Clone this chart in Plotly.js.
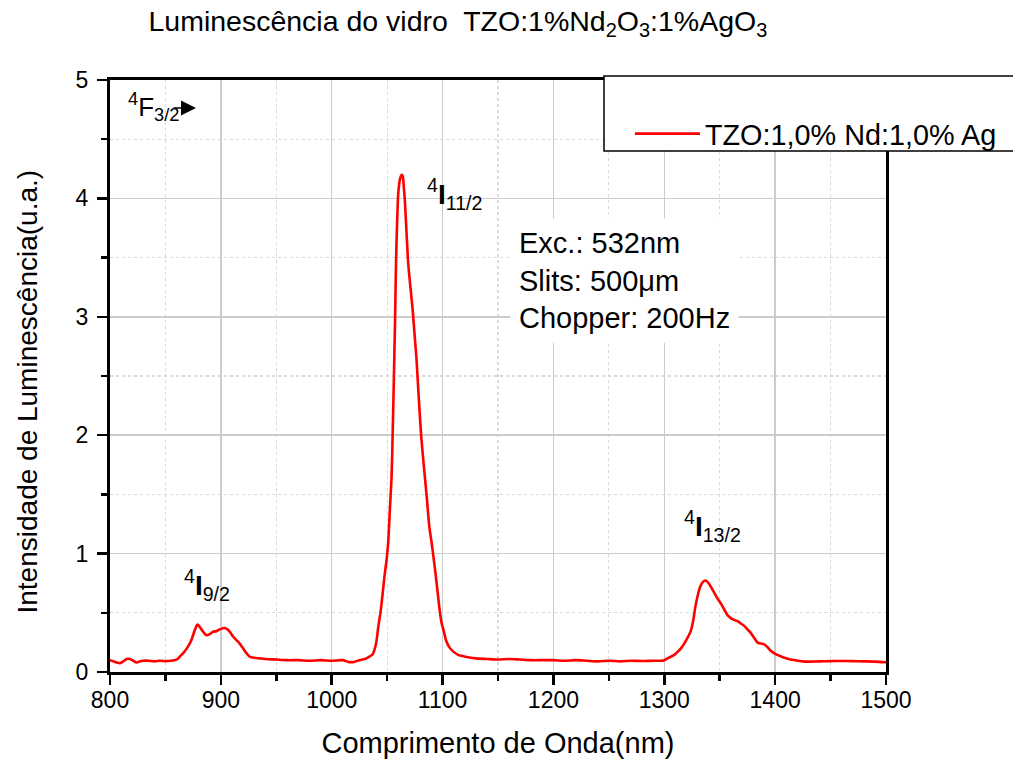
<!DOCTYPE html>
<html>
<head>
<meta charset="utf-8">
<script src="https://cdn.plot.ly/plotly-3.0.1.min.js"></script>
<style>html,body{margin:0;padding:0;background:#fff;}#chart{width:1013px;height:765px;}</style>
</head>
<body>
<div id="chart"></div>
<script>
const wavelength = [800,803,806,809,812,815,818,821,824,827,830,835,840,845,850,855,858,861,864,867,870,873,876,878,879,881,884,887,890,893,896,899,902,904,906,908,911,914,917,920,923,926,930,935,940,950,960,970,980,990,1000,1010,1015,1020,1025,1030,1034,1037,1040,1042,1044.5,1047.5,1049.5,1051,1052.5,1054,1055,1056,1057,1058,1059,1060,1061,1062,1063,1064,1065,1066,1067,1068,1069,1071,1073,1075,1076.5,1078,1080.5,1083,1086,1088,1090,1092.5,1095,1097,1099,1101.5,1103,1106,1110,1114,1118,1123,1130,1140,1150,1160,1170,1180,1190,1200,1210,1220,1230,1240,1250,1260,1270,1280,1290,1297,1300,1303,1306,1309,1312,1315,1318,1321,1324,1326,1328,1330,1332,1334,1336,1338,1340,1342,1345,1348,1351,1354,1357,1360,1363,1366,1369,1372,1375,1378,1381,1384,1387,1390,1393,1396,1399,1403,1407,1412,1418,1425,1430,1440,1450,1460,1470,1480,1490,1500];
const intensity = [0.10,0.09,0.08,0.075,0.09,0.11,0.11,0.095,0.08,0.09,0.095,0.095,0.09,0.095,0.092,0.095,0.10,0.11,0.14,0.17,0.21,0.26,0.34,0.39,0.40,0.38,0.34,0.31,0.32,0.34,0.345,0.36,0.37,0.37,0.36,0.34,0.30,0.27,0.24,0.20,0.16,0.13,0.12,0.115,0.11,0.105,0.10,0.10,0.095,0.10,0.095,0.10,0.085,0.085,0.10,0.11,0.13,0.15,0.24,0.38,0.54,0.80,0.95,1.10,1.38,1.65,2.02,2.45,2.90,3.45,3.80,4.04,4.13,4.18,4.20,4.19,4.10,3.98,3.80,3.62,3.45,3.25,3.06,2.82,2.64,2.40,2.02,1.75,1.45,1.23,1.10,0.92,0.72,0.55,0.42,0.33,0.27,0.21,0.17,0.145,0.135,0.125,0.115,0.11,0.105,0.11,0.105,0.10,0.10,0.10,0.095,0.10,0.095,0.09,0.095,0.09,0.095,0.093,0.095,0.095,0.10,0.115,0.13,0.145,0.17,0.20,0.24,0.29,0.35,0.43,0.55,0.64,0.71,0.75,0.77,0.77,0.75,0.72,0.67,0.62,0.58,0.53,0.48,0.455,0.44,0.43,0.41,0.39,0.36,0.33,0.29,0.25,0.24,0.235,0.21,0.18,0.16,0.14,0.125,0.11,0.10,0.09,0.088,0.09,0.092,0.093,0.092,0.09,0.088,0.082];

const seriesName = 'TZO:1,0% Nd:1,0% Ag';
const chartTitle = 'Luminescência do vidro  TZO:1%Nd<sub>2</sub>O<sub>3</sub>:1%AgO<sub>3</sub>';
const xTitle = 'Comprimento de Onda(nm)';
const yTitle = 'Intensidade de Luminescência(u.a.)';
const xTicks = [800,900,1000,1100,1200,1300,1400,1500];
const yTicks = [0,1,2,3,4,5];
const levelLabels = ['<sup>4</sup>F<sub>3/2</sub>','<sup>4</sup><b>I</b><sub>9/2</sub>','<sup>4</sup><b>I</b><sub>11/2</sub>','<sup>4</sup><b>I</b><sub>13/2</sub>'];
const levelX = [814.5, 865, 1084, 1316];
const levelY = [4.77, 0.735, 4.035, 1.23];
const levelSize = [26, 28, 28, 28];
const infoText = 'Exc.: 532nm<br>Slits: 500μm<br>Chopper: 200Hz';

const FONT = 'Liberation Sans, Arial, sans-serif';

const trace = {
  x: wavelength, y: intensity, type: 'scatter', mode: 'lines', name: seriesName,
  line: {color: '#ff0000', width: 2.6, shape: 'spline', smoothing: 0.7}
};

const annotations = levelLabels.map((t, i) => ({
  x: levelX[i], y: levelY[i], xref: 'x', yref: 'y', text: t, showarrow: false,
  xanchor: 'left', yanchor: 'middle', font: {family: FONT, size: levelSize[i], color: '#000'}
}));
annotations.push({
  x: 877.6, y: 4.764, xref: 'x', yref: 'y', text: '', showarrow: true,
  ax: -24, ay: 0, arrowhead: 2, arrowsize: 2, arrowwidth: 1.5, arrowcolor: '#000',
  startstandoff: 0, standoff: 0
});
annotations.push({
  x: 1161, y: 3.31, xref: 'x', yref: 'y', text: infoText, showarrow: false,
  xanchor: 'left', yanchor: 'middle', align: 'left', bgcolor: '#ffffff', borderpad: 8,
  font: {family: FONT, size: 29, color: '#000'}
});
// y-axis title (placed as rotated text, centred where the reference has it)
annotations.push({
  x: 0, y: 0.4738, xref: 'paper', yref: 'paper', xshift: -82, text: yTitle, textangle: -90,
  showarrow: false, xanchor: 'center', yanchor: 'middle', font: {family: FONT, size: 28, color: '#000'}
});

const axisCommon = {
  showline: true, linecolor: '#000', linewidth: 3, mirror: true,
  ticks: 'outside', ticklen: 10, tickwidth: 2.5, tickcolor: '#000',
  showgrid: true, gridcolor: '#cccccc', gridwidth: 1.5, zeroline: false,
  tickfont: {family: FONT, size: 23, color: '#000'}
};

const layout = {
  width: 1013, height: 765,
  margin: {l: 110, r: 127, t: 80, b: 93, autoexpand: false},
  paper_bgcolor: '#fff', plot_bgcolor: '#fff',
  font: {family: FONT, color: '#000'},
  title: {text: chartTitle, font: {family: FONT, size: 28.5, color: '#000'},
    xref: 'container', yref: 'container', x: 0.452, xanchor: 'center', y: 0.972, yanchor: 'middle'},
  xaxis: Object.assign({}, axisCommon, {
    range: [800, 1500], tickvals: xTicks, ticktext: xTicks.map(String), ticklabelstandoff: -5,
    minor: {dtick: 50, ticks: 'outside', ticklen: 6, tickwidth: 2.5, tickcolor: '#000', showgrid: true, gridcolor: '#d9d9d9', griddash: 'dot', gridwidth: 1.2},
    title: {text: xTitle, font: {family: FONT, size: 29, color: '#000'}, standoff: 22}
  }),
  yaxis: Object.assign({}, axisCommon, {
    range: [0, 5], tickvals: yTicks, ticktext: yTicks.map(String), ticklabelstandoff: 4,
    minor: {dtick: 0.5, ticks: 'outside', ticklen: 6, tickwidth: 2.5, tickcolor: '#000', showgrid: true, gridcolor: '#d9d9d9', griddash: 'dot', gridwidth: 1.2}
  }),
  showlegend: true,
  legend: {x: 0.67, y: 0.909, xanchor: 'left', yanchor: 'middle', bgcolor: 'rgba(0,0,0,0)', borderwidth: 0,
    itemwidth: 65, font: {family: FONT, size: 28.8, color: '#000'}},
  shapes: [{type: 'rect', xref: 'paper', yref: 'paper', x0: 0.6366, x1: 1.25, y0: 0.880, y1: 1.0068,
    line: {color: '#000', width: 1.5}, fillcolor: '#fff', layer: 'above'}],
  annotations: annotations
};

Plotly.newPlot('chart', [trace], layout, {displayModeBar: false, staticPlot: true});
</script>
</body>
</html>
